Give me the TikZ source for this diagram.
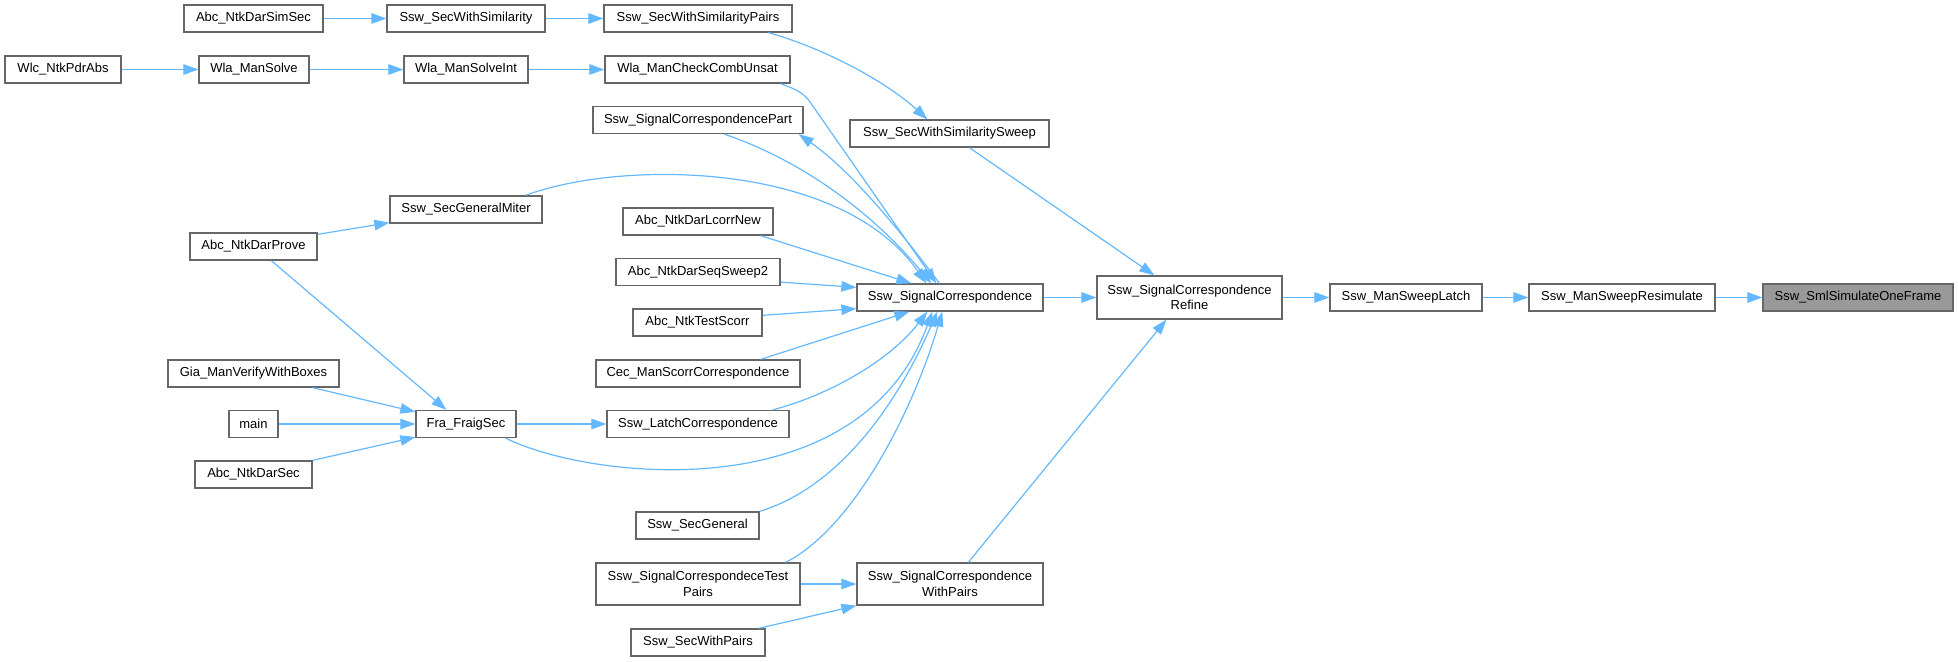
\documentclass[tikz,border=0pt]{standalone}
\usepackage{fontspec}
\setmainfont{Liberation Sans}
\usetikzlibrary{arrows.meta,calc}
\definecolor{edgec}{HTML}{63B8FF}
\definecolor{boxc}{HTML}{666666}
\definecolor{hl}{HTML}{999999}
\begin{document}
\begin{tikzpicture}[x=1pt,y=-1pt,
  box/.style={draw=boxc, line width=1.3pt, fill=white, inner sep=0pt,
    minimum height=27pt, font=\fontsize{13}{15.5}\selectfont, align=center},
  tall/.style={minimum height=43pt},
  edge/.style={draw=edgec, line width=1.2pt, -{Triangle[length=15pt,width=10.5pt]}}]
\useasboundingbox (0,0) rectangle (1958,661);
% nodes
\node[box,minimum width=139pt] (simsec) at (253.5,18.5) {Abc\_NtkDarSimSec};
\node[box,minimum width=158pt] (secsim) at (466,18.5) {Ssw\_SecWithSimilarity};
\node[box,minimum width=188pt] (secsimp) at (698,18.5) {Ssw\_SecWithSimilarityPairs};
\node[box,minimum width=116pt] (pdr) at (63,69.5) {Wlc\_NtkPdrAbs};
\node[box,minimum width=110pt] (msolve) at (254,69.5) {Wla\_ManSolve};
\node[box,minimum width=124pt] (sint) at (466,69.5) {Wla\_ManSolveInt};
\node[box,minimum width=185pt] (comb) at (697.5,69.5) {Wla\_ManCheckCombUnsat};
\node[box,minimum width=210pt] (part) at (698,120) {Ssw\_SignalCorrespondencePart};
\node[box,minimum width=199pt] (sweep) at (949.5,133.5) {Ssw\_SecWithSimilaritySweep};
\node[box,minimum width=152pt] (miter) at (466,209.5) {Ssw\_SecGeneralMiter};
\node[box,minimum width=150pt] (lcorr) at (698,221.5) {Abc\_NtkDarLcorrNew};
\node[box,minimum width=127pt] (prove) at (253.5,246.5) {Abc\_NtkDarProve};
\node[box,minimum width=164pt] (seq2) at (698,272) {Abc\_NtkDarSeqSweep2};
\node[box,minimum width=186pt] (sc) at (950,297.5) {Ssw\_SignalCorrespondence};
\node[box,tall,minimum width=185pt] (refine) at (1189.5,297.5) {Ssw\_SignalCorrespondence\\Refine};
\node[box,minimum width=152pt] (mslatch) at (1406,297.5) {Ssw\_ManSweepLatch};
\node[box,minimum width=186pt] (resim) at (1622,297.5) {Ssw\_ManSweepResimulate};
\node[box,fill=hl,minimum width=190pt] (onef) at (1858,297.5) {Ssw\_SmlSimulateOneFrame};
\node[box,minimum width=129pt] (tscorr) at (697.5,322.5) {Abc\_NtkTestScorr};
\node[box,minimum width=204pt] (cec) at (698,373.5) {Cec\_ManScorrCorrespondence};
\node[box,minimum width=171pt] (gia) at (253.5,373.5) {Gia\_ManVerifyWithBoxes};
\node[box,minimum width=49pt] (mainn) at (253.5,424) {main};
\node[box,minimum width=100pt] (fraig) at (466,424) {Fra\_FraigSec};
\node[box,minimum width=182pt] (lcc) at (698,424) {Ssw\_LatchCorrespondence};
\node[box,minimum width=117pt] (darsec) at (253.5,474.5) {Abc\_NtkDarSec};
\node[box,minimum width=123pt] (secgen) at (697.5,525.5) {Ssw\_SecGeneral};
\node[box,minimum width=204pt,minimum height=42pt] (tpairs) at (698,584) {Ssw\_SignalCorrespondeceTest\\Pairs};
\node[box,minimum width=186pt,minimum height=42pt] (wpairs) at (950,584) {Ssw\_SignalCorrespondence\\WithPairs};
\node[box,minimum width=134pt] (swp) at (698,642.5) {Ssw\_SecWithPairs};
% edges
\draw[edge] (simsec) -- (secsim);
\draw[edge] (secsim) -- (secsimp);
\draw[edge] ($(secsimp.south west)+(165,0)$) .. controls (830,50) and (890,85) .. ($(sweep.north west)+(78,0)$);
\draw[edge] (pdr) -- (msolve);
\draw[edge] (msolve) -- (sint);
\draw[edge] (sint) -- (comb);
\draw[edge] ($(comb.south east)+(-10,0)$) .. controls (795,89) and (803,92) .. (810,102) -- ($(sc.north west)+(80,0)$);
\draw[edge] ($(part.south west)+(132,0)$) .. controls (800,160) and (870,210) .. ($(sc.north west)+(75,0)$);
\draw[edge] ($(sc.north west)+(83,0)$) .. controls (900,230) and (850,170) .. ($(part.south east)+(-5,0)$);
\draw[edge] ($(miter.north east)+(-17,0)$) .. controls (620,160) and (840,160) .. ($(sc.north west)+(70,0)$);
\draw[edge] ($(lcorr.south east)+(-13,0)$) -- ($(sc.north west)+(55,0)$);
\draw[edge] ($(seq2.south east)+(0,-4)$) -- ($(sc.north west)+(0,4)$);
\draw[edge] ($(tscorr.north east)+(0,7)$) -- ($(sc.south west)+(0,-3)$);
\draw[edge] ($(cec.north east)+(-40,0)$) -- ($(sc.south west)+(53,0)$);
\draw[edge] ($(lcc.north east)+(-17,0)$) .. controls (830,395) and (890,360) .. ($(sc.south west)+(71,0)$);
\draw[edge] ($(fraig.south east)+(-11,0)$) .. controls (590,480) and (860,510) .. ($(sc.south west)+(76,0)$);
\draw[edge] (secgen.north east) .. controls (830,490) and (890,420) .. ($(sc.south west)+(81,0)$);
\draw[edge] ($(tpairs.north east)+(-15,0)$) .. controls (850,530) and (910,420) .. ($(sc.south west)+(86,0)$);
\draw[edge] (sc) -- (refine);
\draw[edge] ($(sweep.south west)+(120,0)$) -- ($(refine.north west)+(58,0)$);
\draw[edge] ($(wpairs.north west)+(112,0)$) -- ($(refine.south west)+(70,0)$);
\draw[edge] (refine) -- (mslatch);
\draw[edge] (mslatch) -- (resim);
\draw[edge] (resim) -- (onef);
\draw[edge] ($(prove.north east)+(0,2)$) -- ($(miter.south west)+(0,-1)$);
\draw[edge] ($(prove.south west)+(82,0)$) -- ($(fraig.north west)+(31,0)$);
\draw[edge] ($(gia.south east)+(-27,0)$) -- ($(fraig.north west)+(0,2)$);
\draw[edge] (mainn) -- (fraig);
\draw[edge] (darsec.north east) -- ($(fraig.south west)+(0,-1)$);
\draw[edge] (fraig) -- (lcc);
\draw[edge] (tpairs) -- (wpairs);
\draw[edge] ($(swp.north east)+(-7,0)$) -- (wpairs.south west);
\end{tikzpicture}
\end{document}
